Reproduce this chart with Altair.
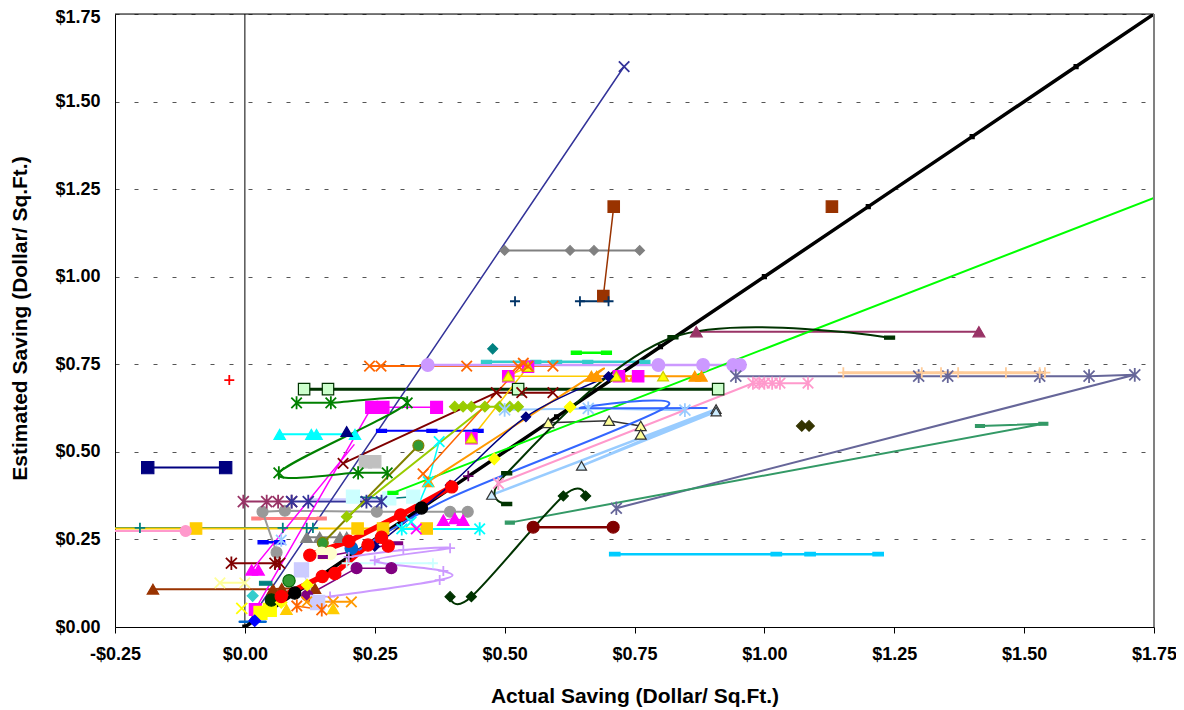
import altair as alt
import pandas as pd

# ---------------- axis tick values ----------------
XTICKS = [-0.25, 0.0, 0.25, 0.5, 0.75, 1.0, 1.25, 1.5, 1.75]
YTICKS = [0.0, 0.25, 0.5, 0.75, 1.0, 1.25, 1.5, 1.75]

# ---------------- series values (actual x, estimated y) ----------------
diag_x = [0.0, 0.2, 0.4, 0.6, 0.8, 1.0, 1.2, 1.4, 1.6, 1.75]
diag_y = [0.0, 0.2, 0.4, 0.6, 0.8, 1.0, 1.2, 1.4, 1.6, 1.75]
trend_x = [0.285, 1.75]
trend_y = [0.383, 1.225]
lime_pt_x = [0.285]
lime_pt_y = [0.383]
blue_line_x = [0.01, 0.73]
blue_line_y = [0.02, 1.60]
blue_pt_x = [0.73]
blue_pt_y = [1.60]
grey_dia_x = [0.50, 0.626, 0.672, 0.76]
grey_dia_y = [1.075, 1.075, 1.075, 1.075]
brown_sq_x = [0.71, 0.69]
brown_sq_y = [1.20, 0.945]
brown_pt_x = [1.13]
brown_pt_y = [1.20]
navyplus_pt_x = [0.52]
navyplus_pt_y = [0.93]
navyplus_x = [0.645, 0.70]
navyplus_y = [0.93, 0.93]
redplus_x = [-0.03]
redplus_y = [0.705]
navy_sq_x = [-0.187, -0.037]
navy_sq_y = [0.455, 0.455]
teal_dia_x = [0.477]
teal_dia_y = [0.794]
orange_x_x = [0.24, 0.262, 0.427, 0.526, 0.545, 0.593]
orange_x_y = [0.745, 0.745, 0.745, 0.745, 0.745, 0.745]
lav_circ_x = [0.352, 0.796, 0.882, 0.94, 0.953]
lav_circ_y = [0.748, 0.748, 0.748, 0.748, 0.748]
turq_x = [0.465, 0.56, 0.60, 0.66, 0.77]
turq_y = [0.757, 0.757, 0.757, 0.757, 0.757]
lime_short_x = [0.638, 0.696]
lime_short_y = [0.783, 0.783]
orange_tri_x = [0.353, 0.667, 0.677, 0.728, 0.751, 0.866, 0.879]
orange_tri_y = [0.415, 0.716, 0.716, 0.716, 0.716, 0.716, 0.716]
mag_pts_x = [0.436, 0.507, 0.545, 0.72, 0.757]
mag_pts_y = [0.539, 0.716, 0.743, 0.716, 0.716]
yel_tri_x = [0.436, 0.545, 0.507, 0.715, 0.805]
yel_tri_y = [0.539, 0.743, 0.716, 0.716, 0.716]
dkg_sq_x = [0.114, 0.16, 0.526, 0.911]
dkg_sq_y = [0.679, 0.679, 0.679, 0.679]
dkred_x_x = [0.189, 0.484, 0.533, 0.593]
dkred_x_y = [0.467, 0.669, 0.669, 0.669]
green_star_x = [0.0995, 0.1655, 0.3125, 0.0654, 0.218, 0.274]
green_star_y = [0.64, 0.64, 0.64, 0.44, 0.44, 0.44]
mag_line_x = [0.02, 0.244, 0.266, 0.369]
mag_line_y = [0.05, 0.627, 0.627, 0.627]
yg_dia_x = [0.196, 0.462, 0.404, 0.42, 0.436, 0.49, 0.51, 0.526]
yg_dia_y = [0.315, 0.629, 0.629, 0.629, 0.629, 0.629, 0.629, 0.629]
cyan_tri_x = [0.067, 0.128, 0.138, 0.212]
cyan_tri_y = [0.55, 0.55, 0.55, 0.55]
navy_tri_x = [0.196]
navy_tri_y = [0.558]
blue_dash_x = [0.263, 0.36, 0.449]
blue_dash_y = [0.56, 0.56, 0.56]
olive_x = [0.15, 0.334]
olive_y = [0.24, 0.518]
cyan_x_x = [0.32, 0.353, 0.374]
cyan_x_y = [0.30, 0.415, 0.529]
cyan_star_x = [0.302, 0.452]
cyan_star_y = [0.28, 0.28]
orange_x2_x = [0.343, 0.536]
orange_x2_y = [0.437, 0.753]
grey_sq_x = [0.232, 0.25]
grey_sq_y = [0.472, 0.472]
red1_x = [0.125, 0.2, 0.30, 0.398]
red1_y = [0.205, 0.245, 0.32, 0.40]
red2_x = [0.07, 0.149, 0.173, 0.237, 0.263, 0.276]
red2_y = [0.087, 0.144, 0.153, 0.234, 0.256, 0.231]
blk_circ_x = [0.096, 0.34]
blk_circ_y = [0.097, 0.34]
yel_dia_x = [0.07, 0.12, 0.48, 0.626]
yel_dia_y = [0.07, 0.12, 0.48, 0.628]
pink_star_x = [0.488, 0.978, 0.99, 1.0, 1.015, 1.03, 1.084]
pink_star_y = [0.41, 0.696, 0.696, 0.696, 0.696, 0.696, 0.696]
slate_x = [0.945, 1.297, 1.353, 1.53, 1.625, 1.713, 0.715]
slate_y = [0.716, 0.716, 0.716, 0.716, 0.716, 0.72, 0.339]
peach_x = [1.152, 1.303, 1.34, 1.373, 1.465, 1.53, 1.54]
peach_y = [0.726, 0.726, 0.726, 0.726, 0.726, 0.726, 0.726]
mauve_x = [0.869, 1.413]
mauve_y = [0.843, 0.843]
dkg_curve_x = [0.504, 0.504, 0.824, 1.241]
dkg_curve_y = [0.351, 0.439, 0.827, 0.826]
dkg_dia_x = [0.395, 0.436, 0.613, 0.656]
dkg_dia_y = [0.0865, 0.0865, 0.374, 0.374]
dkolive_x = [1.072, 1.086]
dkolive_y = [0.574, 0.574]
seagreen_x = [0.51, 1.537, 1.415]
seagreen_y = [0.298, 0.58, 0.574]
sky_x = [0.712, 1.023, 1.088, 1.219]
sky_y = [0.208, 0.208, 0.208, 0.208]
dkred_circ_x = [0.555, 0.709]
dkred_circ_y = [0.285, 0.285]
royal_x = [0.22, 0.40, 0.812, 0.645, 0.889]
royal_y = [0.22, 0.372, 0.629, 0.625, 0.625]
lb_tri_x = [0.475, 0.907, 0.648, 0.907]
lb_tri_y = [0.377, 0.622, 0.46, 0.615]
khaki_x = [0.584, 0.701, 0.762, 0.762]
khaki_y = [0.583, 0.589, 0.574, 0.55]
lb_star_x = [0.50, 0.661, 0.847]
lb_star_y = [0.62, 0.624, 0.619]
navy_curve_x = [0.25, 0.395, 0.541, 0.70]
navy_curve_y = [0.23, 0.405, 0.60, 0.715]
purple_plus_x = [0.43]
purple_plus_y = [0.431]
grey_circ_x = [0.061, 0.034, 0.077, 0.254, 0.395, 0.429]
grey_circ_y = [0.213, 0.329, 0.332, 0.329, 0.329, 0.329]
mag_tri_x = [0.382, 0.404, 0.42]
mag_tri_y = [0.305, 0.31, 0.305]
mag_tri2_x = [0.013, 0.026]
mag_tri2_y = [0.163, 0.163]
plum_x = [-0.003, 0.042, 0.064, 0.09]
plum_y = [0.358, 0.358, 0.358, 0.358]
indigo_x = [0.09, 0.122, 0.234, 0.263]
indigo_y = [0.358, 0.358, 0.358, 0.358]
lilac_line_x = [0.13, 0.28]
lilac_line_y = [0.365, 0.365]
salmon_x = [0.022, 0.148]
salmon_y = [0.31, 0.31]
teal_plus_x = [-0.3, -0.202, 0.073, 0.119, 0.131]
teal_plus_y = [0.283, 0.283, 0.283, 0.283, 0.283]
gold_sq_x = [-0.3, -0.094, 0.217, 0.266, 0.35]
gold_sq_y = [0.281, 0.281, 0.281, 0.281, 0.281]
pink_circ_x = [-0.3, -0.114]
pink_circ_y = [0.274, 0.274]
mag_x_x = [0.33]
mag_x_y = [0.28]
blue_dash2_x = [0.035, 0.067]
blue_dash2_y = [0.242, 0.242]
lb_star2_x = [0.07]
lb_star2_y = [0.248]
grey_tri_x = [0.119, 0.144, 0.183, 0.196]
grey_tri_y = [0.256, 0.256, 0.256, 0.256]
dkred_star_x = [-0.026, 0.058, 0.067]
dkred_star_y = [0.182, 0.182, 0.182]
ltyel_x = [-0.048, 0.0]
ltyel_y = [0.126, 0.126]
brown_tri_x = [-0.177, 0.054, 0.071, 0.135]
brown_tri_y = [0.108, 0.108, 0.11, 0.11]
lav_loop_x = [0.164, 0.375, 0.382, 0.25, 0.395, 0.305, 0.20]
lav_loop_y = [0.087, 0.134, 0.16, 0.19, 0.225, 0.22, 0.20]
ltcyan_x = [0.196, 0.362]
ltcyan_y = [0.182, 0.182]
purple_circ_x = [0.12, 0.215, 0.282]
purple_circ_y = [0.09, 0.168, 0.168]
orange_bot_x = [0.119, 0.17, 0.205]
orange_bot_y = [0.072, 0.072, 0.072]
orange_star_x = [0.1, 0.148]
orange_star_y = [0.06, 0.049]
gold_tri_x = [0.08, 0.17]
gold_tri_y = [0.05, 0.052]
yel_sq_x = [0.03, 0.048]
yel_sq_y = [0.04, 0.049]
yel_x_x = [-0.006]
yel_x_y = [0.053]
blue_dia_x = [0.019]
blue_dia_y = [0.018]
blue_dash3_x = [-0.01, 0.04]
blue_dash3_y = [0.015, 0.015]
green_circ_x = [0.085]
green_circ_y = [0.132]
dkg_circ_x = [0.051]
dkg_circ_y = [0.077]
cyan_dia_x = [0.015]
cyan_dia_y = [0.089]
lilac_sq_x = [0.109, 0.14]
lilac_sq_y = [0.163, 0.07]
ltcyan_sq_x = [0.208, 0.278, 0.324]
ltcyan_sq_y = [0.372, 0.367, 0.372]
cream_x = [0.148, 0.164]
cream_y = [0.21, 0.21]
blue_circ_x = [0.205]
blue_circ_y = [0.225]
purple_dash_x = [0.15, 0.295]
purple_dash_y = [0.2, 0.239]
mag_line2_x = [0.012, 0.21]
mag_line2_y = [0.16, 0.52]
teal_rect_x = [0.04]
teal_rect_y = [0.125]

# (xs, ys, line colour, line width, smooth, marker, marker fill, marker stroke, marker size)
SERIES = [
    (blue_dash3_x, blue_dash3_y, "#0066CC", 2.5, False, None, None, None, 0),
    (teal_plus_x, teal_plus_y, "#008080", 1.5, False, "plus", None, "#008080", 110),
    (gold_sq_x, gold_sq_y, "#FFCC00", 2, False, "square", "#FFCC00", "#FFCC00", 130),
    (pink_circ_x, pink_circ_y, "#FF99CC", 2, False, "circle", "#FF99CC", "#FF99CC", 120),
    (navy_sq_x, navy_sq_y, "#000080", 2, False, "square", "#000080", "#000080", 150),
    (brown_tri_x, brown_tri_y, "#993300", 2, False, "tri", "#993300", "#993300", 130),
    (ltyel_x, ltyel_y, "#FFFF99", 2, False, "x", None, "#FFFF99", 110),
    (dkred_star_x, dkred_star_y, "#800000", 2, False, "star", None, "#800000", 120),
    (plum_x, plum_y, "#993366", 2, False, "star", None, "#993366", 120),
    (indigo_x, indigo_y, "#333399", 2, False, "star", None, "#333399", 120),
    (lilac_line_x, lilac_line_y, "#CCCCFF", 2, False, None, None, None, 0),
    (salmon_x, salmon_y, "#FF8080", 3, False, "dash", "#FF8080", "#FF8080", 80),
    (grey_circ_x, grey_circ_y, "#999999", 2, False, "circle", "#999999", "#999999", 120),
    (blue_dash2_x, blue_dash2_y, "#0000FF", 2.5, False, "dash", "#0000FF", "#0000FF", 100),
    (grey_tri_x, grey_tri_y, "#808080", 2, False, "tri", "#808080", "#808080", 140),
    (mag_line_x, mag_line_y, "#FF00FF", 1.5, False, "square", "#FF00FF", "#FF00FF", 140),
    (mag_line2_x, mag_line2_y, "#FF00FF", 1.5, False, None, None, None, 0),
    (green_star_x, green_star_y, "#008000", 2, True, "star", None, "#008000", 110),
    (cyan_tri_x, cyan_tri_y, "#00FFFF", 2, False, "tri", "#00FFFF", "#00FFFF", 130),
    (navy_tri_x, navy_tri_y, None, 0, False, "tri", "#000080", "#000080", 130),
    (blue_dash_x, blue_dash_y, "#0000FF", 2, False, "dash", "#0000FF", "#0000FF", 100),
    (dkred_x_x, dkred_x_y, "#800000", 2, False, "x", None, "#800000", 110),
    (grey_sq_x, grey_sq_y, None, 0, False, "square", "#C0C0C0", "#C0C0C0", 150),
    (olive_x, olive_y, "#808000", 2, False, "circle", "#339933", "#808000", 120),
    (yg_dia_x, yg_dia_y, "#99CC00", 2, False, "diamond", "#99CC00", "#99CC00", 110),
    (cyan_x_x, cyan_x_y, "#00FFFF", 1.5, False, "x", None, "#00FFFF", 110),
    (cyan_star_x, cyan_star_y, "#00FFFF", 2, False, "star", None, "#00FFFF", 110),
    (mag_x_x, mag_x_y, None, 0, False, "x", None, "#FF00FF", 110),
    (orange_x2_x, orange_x2_y, "#FF6600", 1.5, False, "x", None, "#FF6600", 110),
    (orange_x_x, orange_x_y, "#FF6600", 2, False, "x", None, "#FF6600", 110),
    (lav_circ_x, lav_circ_y, "#CC99FF", 2.5, False, "circle", "#CC99FF", "#CC99FF", 160),
    (turq_x, turq_y, "#33CCCC", 2.5, False, "dash", "#33CCCC", "#33CCCC", 100),
    (lime_short_x, lime_short_y, "#00FF00", 2.5, False, "dash", "#00FF00", "#00FF00", 100),
    (dkg_sq_x, dkg_sq_y, "#003300", 3, False, "square", "#CCFFCC", "#003300", 130),
    (orange_tri_x, orange_tri_y, "#FF9900", 2, True, "tri", "#FF9900", "#FF9900", 130),
    (mag_pts_x, mag_pts_y, None, 0, False, "square", "#FF00FF", "#FF00FF", 130),
    (yel_tri_x, yel_tri_y, "#FFCC00", 1.5, False, "tri", "#FFFF00", "#CCCC00", 120),
    (navy_curve_x, navy_curve_y, "#000080", 1.5, True, "diamond", "#000080", "#000080", 90),
    (purple_plus_x, purple_plus_y, None, 0, False, "plus", None, "#660066", 110),
    (royal_x, royal_y, "#3366FF", 2, True, None, None, None, 0),
    (lb_star_x, lb_star_y, "#99CCFF", 2, False, "star", None, "#99CCFF", 120),
    (lb_tri_x, lb_tri_y, "#99CCFF", 2.5, False, "tri", "#CCECFF", "#333333", 100),
    (khaki_x, khaki_y, "#333333", 1.5, False, "tri", "#FFFF99", "#333333", 120),
    (pink_star_x, pink_star_y, "#FF99CC", 2, False, "star", None, "#FF99CC", 110),
    (slate_x, slate_y, "#666699", 2, False, "star", None, "#666699", 120),
    (peach_x, peach_y, "#FFCC99", 3, False, "plus", None, "#FFCC99", 120),
    (mauve_x, mauve_y, "#993366", 2, False, "tri", "#993366", "#993366", 140),
    (dkg_curve_x, dkg_curve_y, "#003300", 2, True, "dash", "#003300", "#003300", 100),
    (dkg_dia_x, dkg_dia_y, "#003300", 2, True, "diamond", "#003300", "#003300", 100),
    (dkolive_x, dkolive_y, None, 0, False, "diamond", "#333300", "#333300", 110),
    (seagreen_x, seagreen_y, "#339966", 2, False, "dash", "#339966", "#339966", 80),
    (sky_x, sky_y, "#00CCFF", 2.5, False, "dash", "#00CCFF", "#00CCFF", 110),
    (dkred_circ_x, dkred_circ_y, "#800000", 2.5, False, "circle", "#800000", "#800000", 140),
    (grey_dia_x, grey_dia_y, "#808080", 2, False, "diamond", "#808080", "#808080", 90),
    (brown_sq_x, brown_sq_y, "#993300", 1.5, False, "square", "#993300", "#993300", 130),
    (brown_pt_x, brown_pt_y, None, 0, False, "square", "#993300", "#993300", 130),
    (navyplus_pt_x, navyplus_pt_y, None, 0, False, "plus", None, "#003366", 100),
    (navyplus_x, navyplus_y, "#003366", 2, False, "plus", None, "#003366", 100),
    (redplus_x, redplus_y, None, 0, False, "plus", None, "#FF0000", 100),
    (teal_dia_x, teal_dia_y, None, 0, False, "diamond", "#008080", "#008080", 100),
    (mag_tri_x, mag_tri_y, "#FF00FF", 1, False, "tri", "#FF00FF", "#FF00FF", 140),
    (mag_tri2_x, mag_tri2_y, None, 0, False, "tri", "#FF00FF", "#FF00FF", 140),
    (lb_star2_x, lb_star2_y, None, 0, False, "star", None, "#99CCFF", 110),
    (lav_loop_x, lav_loop_y, "#CC99FF", 2, True, "plus", None, "#CC99FF", 100),
    (ltcyan_x, ltcyan_y, "#CCFFFF", 2, False, "plus", None, "#CCFFFF", 100),
    (purple_circ_x, purple_circ_y, "#800080", 1.5, False, "circle", "#800080", "#800080", 120),
    (orange_bot_x, orange_bot_y, "#FF9900", 2, False, "x", None, "#FF9900", 110),
    (orange_star_x, orange_star_y, "#FF6600", 1.5, False, "star", None, "#FF6600", 110),
    (gold_tri_x, gold_tri_y, None, 0, False, "tri", "#FFCC00", "#FFCC00", 130),
    (yel_sq_x, yel_sq_y, None, 0, False, "square", "#FFFF00", "#FFFF00", 170),
    (yel_x_x, yel_x_y, None, 0, False, "x", None, "#FFFF00", 120),
    (blue_dia_x, blue_dia_y, None, 0, False, "diamond", "#0000FF", "#0000FF", 130),
    (cyan_dia_x, cyan_dia_y, None, 0, False, "diamond", "#33CCCC", "#33CCCC", 120),
    (teal_rect_x, teal_rect_y, None, 0, False, "dash", "#008080", "#008080", 150),
    (lilac_sq_x, lilac_sq_y, "#CCCCFF", 1.5, False, "square", "#CCCCFF", "#CCCCFF", 200),
    (ltcyan_sq_x, ltcyan_sq_y, "#008080", 1.5, False, "square", "#CCFFFF", "#CCFFFF", 170),
    (cream_x, cream_y, None, 0, False, "circle", "#FFFFCC", "#FFFFCC", 160),
    (blue_circ_x, blue_circ_y, None, 0, False, "circle", "#0066CC", "#0066CC", 160),
    (purple_dash_x, purple_dash_y, "#800080", 1.5, False, "dash", "#800080", "#800080", 80),
    (green_circ_x, green_circ_y, None, 0, False, "circle", "#339933", "#006600", 150),
    (dkg_circ_x, dkg_circ_y, None, 0, False, "circle", "#003300", "#003300", 150),
    (diag_x, diag_y, "#000000", 3.5, False, "square", "#000000", "#000000", 16),
    (blk_circ_x, blk_circ_y, "#000000", 2, False, "circle", "#000000", "#000000", 150),
    (yel_dia_x, yel_dia_y, None, 0, False, "diamond", "#FFFF00", "#FFFF00", 130),
    (red2_x, red2_y, "#FF0000", 5.5, False, "circle", "#FF0000", "#FF0000", 150),
    (red1_x, red1_y, "#FF0000", 5.5, False, "circle", "#FF0000", "#FF0000", 150),
    (blue_line_x, blue_line_y, "#333399", 1.5, False, None, None, None, 0),
    (blue_pt_x, blue_pt_y, None, 0, False, "x", None, "#333399", 110),
    (trend_x, trend_y, "#00FF00", 2, False, None, None, None, 0),
    (lime_pt_x, lime_pt_y, None, 0, False, "dash", "#00FF00", "#00FF00", 100),
]

SHAPES = {
    "circle": "circle",
    "square": "square",
    "diamond": "diamond",
    "tri": "triangle-up",
    "dash": "M-1,-0.32L1,-0.32L1,0.32L-1,0.32Z",
    "x": "M-1,-1L1,1M-1,1L1,-1",
    "star": "M-1,-1L1,1M-1,1L1,-1M0,-1.25L0,1.25",
    "plus": "M-1,0L1,0M0,-1L0,1",
}
STROKED = {"x", "star", "plus"}

line_rows, smooth_rows, fill_rows, stroke_rows = [], [], [], []
for sid, (xs, ys, lc, lw, smooth, mk, mf, ms, msz) in enumerate(SERIES):
    for i, (xv, yv) in enumerate(zip(xs, ys)):
        if lc:
            (smooth_rows if smooth else line_rows).append(
                {"sid": sid, "i": i, "x": xv, "y": yv, "lc": lc, "lw": lw})
        if mk:
            row = {"sid": sid, "i": i, "x": xv, "y": yv, "shape": SHAPES[mk],
                   "mf": mf or "#ffffff", "ms": ms or mf, "msz": msz}
            (stroke_rows if mk in STROKED else fill_rows).append(row)

df_line = pd.DataFrame(line_rows)
df_smooth = pd.DataFrame(smooth_rows)
df_fill = pd.DataFrame(fill_rows)
df_stroke = pd.DataFrame(stroke_rows)

FONT = "Liberation Sans"
X = alt.X(
    "x:Q",
    scale=alt.Scale(domain=[-0.25, 1.75], nice=False, zero=False),
    axis=alt.Axis(
        values=XTICKS,
        labelExpr="datum.value < 0 ? '-$' + format(-datum.value, '.2f') : '$' + format(datum.value, '.2f')",
        title="Actual Saving (Dollar/ Sq.Ft.)",
        grid=False, tickSize=6, labelPadding=12,
        domainColor="black", tickColor="black",
        labelFontSize=18, labelFontWeight="bold", labelColor="black",
        titleFontSize=21, titleFontWeight="bold", titleColor="black",
        titleY=75, titleBaseline="alphabetic",
        labelFlush=False, labelOverlap=False,
    ),
)
Y = alt.Y(
    "y:Q",
    scale=alt.Scale(domain=[0, 1.75], nice=False, zero=False),
    axis=alt.Axis(
        values=YTICKS,
        labelExpr="'$' + format(datum.value, '.2f')",
        labelOffset={"condition": {"test": "datum.value >= 1.74", "value": 3.5}, "value": 0},
        title="Estimated Saving (Dollar/ Sq.Ft.)",
        grid=True, gridDash=[4, 15], gridColor="#555555", gridWidth=1,
        tickSize=0, labelPadding=15,
        domainColor="black",
        labelFontSize=18, labelFontWeight="bold", labelColor="black",
        titleFontSize=21, titleFontWeight="bold", titleColor="black",
        titleX=-95, titleY=304, titleBaseline="middle",
        labelFlush=False, labelOverlap=False,
    ),
)

zero_line = alt.Chart(pd.DataFrame({"x": [0.0]})).mark_rule(
    color="black", strokeWidth=1).encode(x=X)

lines = alt.Chart(df_line).mark_line(clip=True, strokeCap="round", strokeJoin="round").encode(
    x=X, y=Y,
    detail="sid:N",
    order=alt.Order("i:Q"),
    color=alt.Color("lc:N", scale=None),
    strokeWidth=alt.StrokeWidth("lw:Q", scale=None),
)
smooth = alt.Chart(df_smooth).mark_line(clip=True, interpolate="cardinal", strokeCap="round").encode(
    x=X, y=Y,
    detail="sid:N",
    order=alt.Order("i:Q"),
    color=alt.Color("lc:N", scale=None),
    strokeWidth=alt.StrokeWidth("lw:Q", scale=None),
)
filled = alt.Chart(df_fill).mark_point(filled=True, opacity=1, strokeWidth=1.2, clip=True).encode(
    x=X, y=Y,
    shape=alt.Shape("shape:N", scale=None),
    size=alt.Size("msz:Q", scale=None),
    fill=alt.Fill("mf:N", scale=None),
    stroke=alt.Stroke("ms:N", scale=None),
)
stroked = alt.Chart(df_stroke).mark_point(filled=False, opacity=1, strokeWidth=1.8, clip=True).encode(
    x=X, y=Y,
    shape=alt.Shape("shape:N", scale=None),
    size=alt.Size("msz:Q", scale=None),
    color=alt.Color("ms:N", scale=None),
)
top_border = alt.Chart(pd.DataFrame({"y": [1.75]})).mark_rule(
    color="black", strokeWidth=1).encode(y=Y)
right_border = alt.Chart(pd.DataFrame({"x": [1.75]})).mark_rule(
    color="#808080", strokeWidth=2).encode(x=X)

chart = alt.layer(
    zero_line, lines, smooth, filled, stroked, top_border, right_border
).properties(
    width=1039, height=613,
    padding={"left": 107, "top": 6, "right": 22, "bottom": 82},
    autosize="none",
    background="white",
).configure_view(stroke=None).configure(font=FONT)

chart.save("out.html", embed_options={"renderer": "svg", "actions": False})
